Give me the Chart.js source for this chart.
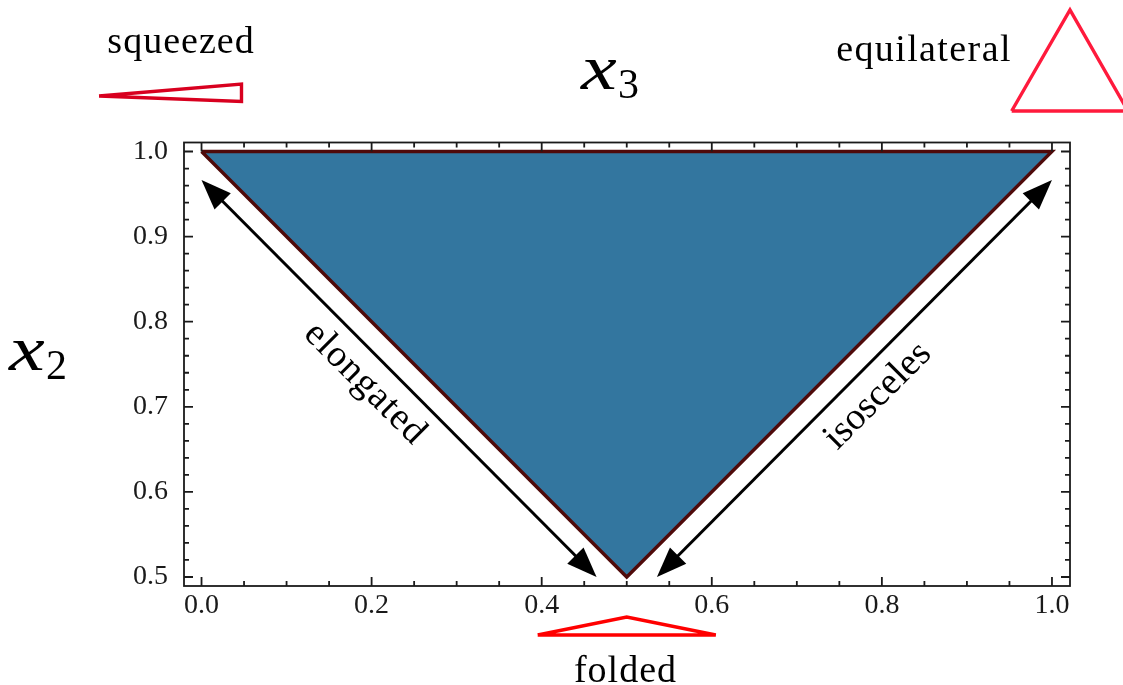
<!DOCTYPE html>
<html>
<head>
<meta charset="utf-8">
<style>
  html, body { margin: 0; padding: 0; background: #fff; }
  canvas { display: block; }
</style>
<script src="https://cdn.jsdelivr.net/npm/chart.js@4"></script>
</head>
<body>
<canvas id="c" width="1123" height="685"></canvas>
<script>
const regionX = [0, 1, 0.5, 0];
const regionY = [1, 1, 0.5, 1];

const squeezedX = [-0.1205, 0.047, 0.047, -0.1205];
const squeezedY = [1.0652, 1.0793, 1.0588, 1.0652];
const equilateralX = [0.9526, 1.0212, 1.0894, 0.9526];
const equilateralY = [1.0476, 1.1663, 1.0476, 1.0476];
const foldedX = [0.3953, 0.5, 0.6047, 0.3953];
const foldedY = [0.4318, 0.453, 0.4318, 0.4318];

const elongatedArrowX = [0, 0.4645];
const elongatedArrowY = [0.9665, 0.5];
const isoscelesArrowX = [1, 0.5355];
const isoscelesArrowY = [0.9665, 0.5];

const xTicks = [0, 0.2, 0.4, 0.6, 0.8, 1];
const yTicks = [0.5, 0.6, 0.7, 0.8, 0.9, 1];
const xMinorTicks = [0.05, 0.1, 0.15, 0.25, 0.3, 0.35, 0.45, 0.5, 0.55, 0.65, 0.7, 0.75, 0.85, 0.9, 0.95];
const yMinorTicks = [0.52, 0.54, 0.56, 0.58, 0.62, 0.64, 0.66, 0.68, 0.72, 0.74, 0.76, 0.78, 0.82, 0.84, 0.86, 0.88, 0.92, 0.94, 0.96, 0.98];

const serif = '"Liberation Serif", serif';
const ink = '#1a1a1a';

function pts(xs, ys) {
  return xs.map((x, i) => ({ x: x, y: ys[i] }));
}

function outline(xs, ys, color) {
  return {
    data: pts(xs, ys),
    showLine: true,
    borderColor: color,
    borderWidth: 3.4,
    borderJoinStyle: 'miter',
    pointRadius: 0,
    fill: false,
    tension: 0,
    clip: false
  };
}

function drawArrow(ctx, x0, y0, x1, y1) {
  const a = Math.atan2(y1 - y0, x1 - x0);
  const len = 30, half = 11.5;
  const ca = Math.cos(a), sa = Math.sin(a);
  ctx.beginPath();
  ctx.moveTo(x0 + ca * 20, y0 + sa * 20);
  ctx.lineTo(x1 - ca * 20, y1 - sa * 20);
  ctx.lineWidth = 3;
  ctx.strokeStyle = '#000';
  ctx.stroke();
  [[x0, y0, 1], [x1, y1, -1]].forEach(([x, y, d]) => {
    const bx = x + d * ca * len, by = y + d * sa * len;
    ctx.beginPath();
    ctx.moveTo(x, y);
    ctx.lineTo(bx - sa * half, by + ca * half);
    ctx.lineTo(bx + sa * half, by - ca * half);
    ctx.closePath();
    ctx.fillStyle = '#000';
    ctx.fill();
  });
}

function label(ctx, text, cx, y, spacing, rot) {
  ctx.save();
  ctx.translate(cx, y);
  ctx.rotate(rot || 0);
  ctx.font = '38px ' + serif;
  ctx.letterSpacing = spacing + 'px';
  ctx.fillStyle = '#000';
  ctx.textAlign = 'center';
  ctx.textBaseline = 'alphabetic';
  ctx.fillText(text, 0, 0);
  ctx.restore();
}

function mathLabel(ctx, sub, x, y) {
  ctx.save();
  ctx.fillStyle = '#000';
  ctx.textAlign = 'left';
  ctx.textBaseline = 'alphabetic';
  ctx.save();
  ctx.translate(x, y);
  ctx.scale(1.22, 0.96);
  ctx.font = 'italic 66px ' + serif;
  ctx.fillText('x', 0, 0);
  ctx.restore();
  ctx.font = '42px ' + serif;
  ctx.fillText(sub, x + 37, y + 9);
  ctx.restore();
}

const frame = {
  id: 'frame',
  afterDatasetsDraw(chart) {
    const { ctx, chartArea: a, scales: { x, y } } = chart;
    ctx.save();
    ctx.strokeStyle = ink;
    ctx.lineWidth = 1.8;
    ctx.strokeRect(a.left, a.top, a.right - a.left, a.bottom - a.top);
    const tick = (vals, len) => {
      vals.forEach(v => {
        const p = x.getPixelForValue(v);
        ctx.beginPath();
        ctx.moveTo(p, a.bottom); ctx.lineTo(p, a.bottom - len);
        ctx.moveTo(p, a.top); ctx.lineTo(p, a.top + len);
        ctx.stroke();
      });
    };
    const tickY = (vals, len) => {
      vals.forEach(v => {
        const p = y.getPixelForValue(v);
        ctx.beginPath();
        ctx.moveTo(a.left, p); ctx.lineTo(a.left + len, p);
        ctx.moveTo(a.right, p); ctx.lineTo(a.right - len, p);
        ctx.stroke();
      });
    };
    tick(xTicks, 9); tick(xMinorTicks, 5);
    tickY(yTicks, 9); tickY(yMinorTicks, 5);

    drawArrow(ctx, x.getPixelForValue(elongatedArrowX[0]), y.getPixelForValue(elongatedArrowY[0]),
      x.getPixelForValue(elongatedArrowX[1]), y.getPixelForValue(elongatedArrowY[1]));
    drawArrow(ctx, x.getPixelForValue(isoscelesArrowX[0]), y.getPixelForValue(isoscelesArrowY[0]),
      x.getPixelForValue(isoscelesArrowX[1]), y.getPixelForValue(isoscelesArrowY[1]));

    label(ctx, 'squeezed', 181, 53, 1);
    label(ctx, 'equilateral', 924, 61, 1.4);
    label(ctx, 'folded', 625.5, 682, 1);
    label(ctx, 'elongated', 358, 391, 1, Math.PI / 4);
    label(ctx, 'isosceles', 885, 403, 0, -Math.PI / 4);
    mathLabel(ctx, '3', 581, 89);
    mathLabel(ctx, '2', 9, 370);
    ctx.restore();
  }
};

new Chart(document.getElementById('c'), {
  type: 'scatter',
  data: {
    datasets: [
      Object.assign(outline(regionX, regionY, '#4f0a0a'), { fill: 'shape', backgroundColor: '#33769f' }),
      outline(squeezedX, squeezedY, '#d8001f'),
      outline(equilateralX, equilateralY, '#ff1a3c'),
      outline(foldedX, foldedY, '#ff0000')
    ]
  },
  plugins: [frame],
  options: {
    responsive: false,
    animation: false,
    layout: { padding: { left: 124, right: 53, top: 142.5, bottom: 59 } },
    plugins: { legend: { display: false }, tooltip: { enabled: false } },
    scales: {
      x: {
        type: 'linear',
        min: -0.0206,
        max: 1.0212,
        afterBuildTicks: s => { s.ticks = xTicks.map(v => ({ value: v })); },
        afterFit: s => { s.height = 40; },
        grid: { display: false },
        border: { display: false },
        ticks: {
          maxRotation: 0,
          padding: -5,
          color: ink,
          font: { family: serif, size: 28 },
          callback: v => v.toFixed(1)
        }
      },
      y: {
        type: 'linear',
        min: 0.4894,
        max: 1.0106,
        afterBuildTicks: s => { s.ticks = yTicks.map(v => ({ value: v })); },
        afterFit: s => { s.width = 60; },
        grid: { display: false },
        border: { display: false },
        ticks: {
          padding: 8,
          color: ink,
          font: { family: serif, size: 28 },
          callback: v => v.toFixed(1)
        }
      }
    }
  }
});
</script>
</body>
</html>
